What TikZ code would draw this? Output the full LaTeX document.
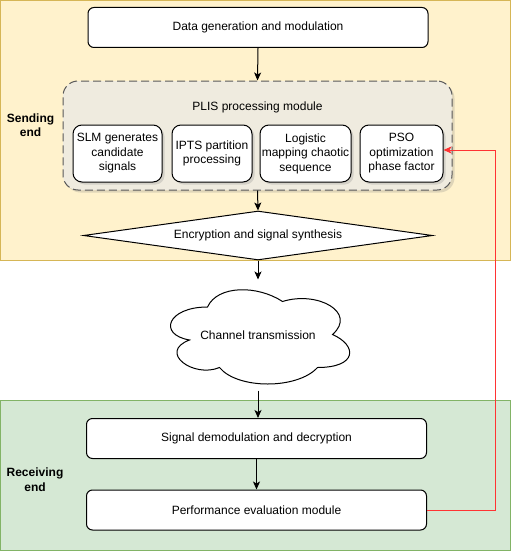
\documentclass[tikz,border=0pt]{standalone}
\usepackage{fontspec}
\setmainfont{Liberation Sans}
\usetikzlibrary{shapes.geometric,arrows.meta,shadows}
\definecolor{sendfill}{HTML}{FFF2CC}
\definecolor{senddraw}{HTML}{D6B656}
\definecolor{recvfill}{HTML}{D5E8D4}
\definecolor{recvdraw}{HTML}{82B366}
\definecolor{modfill}{HTML}{EFEBDF}
\definecolor{backred}{HTML}{FF3333}
\begin{document}
\begin{tikzpicture}[x=1pt,y=-1pt,line width=1pt,
  font=\fontsize{12}{14.5}\selectfont,
  shd/.style={drop shadow={shadow xshift=2.5pt,shadow yshift=-2.5pt,opacity=0.25}},
  blk/.style={draw,fill=white,rounded corners=6pt,minimum width=340pt,minimum height=40pt,inner sep=0pt},
  sub/.style={draw,fill=white,rounded corners=9pt,minimum height=57pt,inner sep=0pt,align=center,shd},
  arr/.style={-{Stealth[length=8pt,width=7pt,inset=2pt]}}]
\useasboundingbox (0,0) rectangle (511,551);
% Regions
\draw[senddraw,fill=sendfill] (0.5,0.5) rectangle (510.5,260);
\draw[recvdraw,fill=recvfill] (0.5,400) rectangle (510.5,550.5);
\node[font=\fontsize{12}{14.5}\selectfont\bfseries,align=center] (sendlbl) at (30.5,125) {Sending\\end};
\node[font=\fontsize{12}{14.5}\selectfont\bfseries,align=center] (recvlbl) at (35,479.5) {Receiving\\end};

% Sending side
\node[blk] (datagen) at (258,27.5) {Data generation and modulation};
\node[draw=black!65,fill=modfill,dash pattern=on 8pt off 4pt,rounded corners=15pt,
  minimum width=389pt,minimum height=109pt,shd] (plis) at (257.5,135.5) {};
\node (plistitle) at (257.5,107) {PLIS processing module};
\node[sub,minimum width=89pt] (slm) at (117.5,153.5) {SLM generates\\candidate\\signals};
\node[sub,minimum width=80pt] (ipts) at (212,153.5) {IPTS partition\\processing};
\node[sub,minimum width=91pt] (logi) at (305.5,153.5) {Logistic\\mapping chaotic\\sequence};
\node[sub,minimum width=83pt] (pso) at (401.5,153.5) {PSO\\optimization\\phase factor};
\node[draw,fill=white,diamond,aspect=7,inner sep=0pt,
  minimum width=349pt,minimum height=49pt] (encr) at (258,235.5) {Encryption and signal synthesis};

% Cloud
\node[minimum width=200pt,minimum height=110pt] (chan) at (258,335) {};
\begin{scope}[shift={(chan.north west)},x=200pt,y=-110pt]
\draw[fill=white] (0.25,0.25) .. controls (0.05,0.25) and (0,0.5) .. (0.16,0.55)
  .. controls (0,0.66) and (0.18,0.9) .. (0.31,0.8)
  .. controls (0.4,1) and (0.7,1) .. (0.8,0.8)
  .. controls (1,0.8) and (1,0.6) .. (0.875,0.5)
  .. controls (1,0.3) and (0.8,0.1) .. (0.625,0.2)
  .. controls (0.5,0.05) and (0.3,0.05) .. (0.25,0.25) -- cycle;
\end{scope}
\node at (chan) {Channel transmission};

% Receiving side
\node[blk] (demod) at (256.5,438.5) {Signal demodulation and decryption};
\node[blk] (perf) at (256.5,510) {Performance evaluation module};

% Arrows
\draw[arr] (datagen.south) -- (plis.north);
\draw[arr] (plis.south) -- (encr.north);
\draw[arr] (encr.south) -- (chan.north);
\draw[arr] (chan.south) -- (chan.south |- demod.north);
\draw[arr] (demod.south) -- (perf.north);
\coordinate (fb) at (495,150);
\draw[backred,arr] (perf.east) -| (fb) -- (pso.east |- fb);
\end{tikzpicture}
\end{document}
